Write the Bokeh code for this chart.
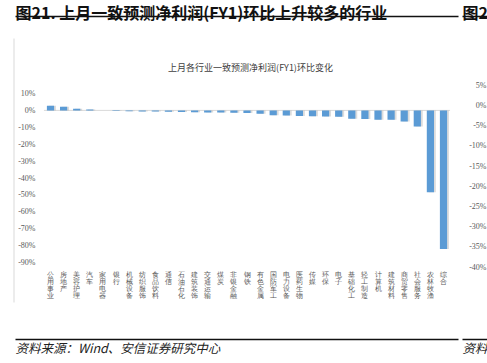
import numpy as np
from bokeh.plotting import figure
from bokeh.models import Range1d, Label, LabelSet, ColumnDataSource
from bokeh.transform import dodge
from bokeh.embed import file_html
from bokeh.resources import INLINE

industries = ["公用事业", "房地产", "美容护理", "汽车", "家用电器", "银行", "机械设备",
              "纺织服饰", "食品饮料", "通信", "石油石化", "建筑装饰", "交通运输", "煤炭",
              "非银金融", "钢铁", "有色金属", "国防军工", "电力设备", "医药生物", "传媒",
              "环保", "电子", "基础化工", "轻工制造", "计算机", "建筑材料", "商贸零售",
              "社会服务", "农林牧渔", "综合"]
change_pct = [2.7, 2.2, 1.0, 0.6, -0.1, -0.4, -0.5,
              -0.6, -0.7, -0.8, -1.0, -1.1, -1.2, -1.3,
              -1.4, -1.5, -2.0, -2.8, -3.0, -3.3, -3.4,
              -3.6, -3.8, -4.9, -5.1, -5.5, -5.6, -6.5,
              -9.5, -48.5, -82.0]
left_ticks = [10, 0, -10, -20, -30, -40, -50, -60, -70, -80, -90]
right_ticks = [5, 0, -5, -10, -15, -20, -25, -30, -35, -40]

chart_title = "上月各行业一致预测净利润(FY1)环比变化"
header = "图21. 上月一致预测净利润(FY1)环比上升较多的行业"
header2 = "图2"
source_note = "资料来源：Wind、安信证券研究中心"
source_note2 = "资料"

# ---- canvas geometry (pixels, y down from canvas top) ----
W, H = 487, 363
X0, DX = 50.0, 13.1          # first category centre, category pitch
LZERO, LPX = 109.9, 1.69     # left axis: y of 0 %, px per 1 %
RZERO, RPX = 104.9, 4.044    # right axis: y of 0 %, px per 1 %
CAT_TOP, CAT_PITCH = 270.0, 7.0   # vertical category labels


def xv(px):
    return (px - X0) / DX


def yv(py):
    return (LZERO - py) / LPX


p = figure(width=W, height=H, title=None,
           x_range=Range1d(xv(0), xv(W)), y_range=Range1d(yv(H), yv(0)),
           x_axis_location=None, y_axis_location=None,
           output_backend="svg", toolbar_location=None,
           min_border=0, min_border_left=0, min_border_right=0,
           min_border_top=0, min_border_bottom=0)
p.extra_y_ranges = {"right": Range1d((RZERO - H) / RPX, RZERO / RPX)}
p.outline_line_color = None
p.grid.visible = False
p.background_fill_color = "white"
p.border_fill_color = "white"

idx = np.arange(len(industries))
src = ColumnDataSource(dict(idx=idx, cat=industries, val=change_pct))

# zero line of the category axis
p.segment(x0=[-0.5], x1=[len(industries) - 0.5], y0=[0], y1=[0],
          line_color="#d9d9d9", line_width=1)

# bars with soft shadow
p.vbar(x=dodge("idx", 0.14), top="val", bottom=0, width=0.55, source=src,
       fill_color="#9a9a9a", fill_alpha=0.35, line_color=None)
p.vbar(x="idx", top="val", bottom=0, width=0.55, source=src,
       fill_color="#5B9BD5", line_color=None)

# category labels, written vertically: one character per row
ch, ch_x, ch_y = [], [], []
for i, name in enumerate(industries):
    for j, c in enumerate(name):
        ch.append(c)
        ch_x.append(i)
        ch_y.append(yv(CAT_TOP + j * CAT_PITCH))
p.text(x=ch_x, y=ch_y, text=ch,
       text_align="center", text_baseline="top",
       text_font="Noto Sans CJK SC", text_font_size="7px",
       text_color="#595959")

# left tick labels
lsrc = ColumnDataSource(dict(y=left_ticks, text=[f"{t}%" for t in left_ticks]))
p.add_layout(LabelSet(x=35, y="y", text="text", source=lsrc, x_units="screen",
                      text_align="right", text_baseline="middle",
                      text_font="Liberation Sans", text_font_size="8px",
                      text_color="#595959"))

# right tick labels
rsrc = ColumnDataSource(dict(y=right_ticks, text=[f"{t}%" for t in right_ticks]))
p.add_layout(LabelSet(x=486, y="y", text="text", source=rsrc, x_units="screen",
                      y_range_name="right", text_align="right", text_baseline="middle",
                      text_font="Liberation Sans", text_font_size="8px",
                      text_color="#595959"))


def label(px, py, text, **kw):
    p.add_layout(Label(x=px, y=H - py, x_units="screen", y_units="screen",
                       text=text, **kw))


# chart title
label(250, 67, chart_title, text_align="center", text_baseline="middle",
      text_font="Noto Sans CJK SC", text_font_size="9px", text_color="#404040")

# header
label(15, -1, header, text_align="left", text_baseline="top",
      text_font="Noto Sans CJK SC", text_font_size="16px",
      text_font_style="bold", text_color="#111111")
label(462, -1, header2, text_align="left", text_baseline="top",
      text_font="Noto Sans CJK SC", text_font_size="16px",
      text_font_style="bold", text_color="#111111")

# footer
label(15, 347, source_note, text_align="left", text_baseline="middle",
      text_font="Noto Sans CJK SC", text_font_size="12.5px",
      text_font_style="italic", text_color="#222222")
label(462, 347, source_note2, text_align="left", text_baseline="middle",
      text_font="Noto Sans CJK SC", text_font_size="12.5px",
      text_font_style="italic", text_color="#222222")

# rules: header underline, footer line, chart-area left border
p.segment(x0=[xv(15), xv(462)], x1=[xv(458), xv(W)], y0=[yv(16)] * 2, y1=[yv(16)] * 2,
          line_color="#111111", line_width=1.5)
p.segment(x0=[xv(15), xv(462)], x1=[xv(458), xv(W)], y0=[yv(339)] * 2, y1=[yv(339)] * 2,
          line_color="#111111", line_width=1.5)
p.segment(x0=[xv(13.5)], x1=[xv(13.5)], y0=[yv(38)], y1=[yv(302)],
          line_color="#d9d9d9", line_width=1)

open("out.html", "w").write(file_html(p, INLINE))
